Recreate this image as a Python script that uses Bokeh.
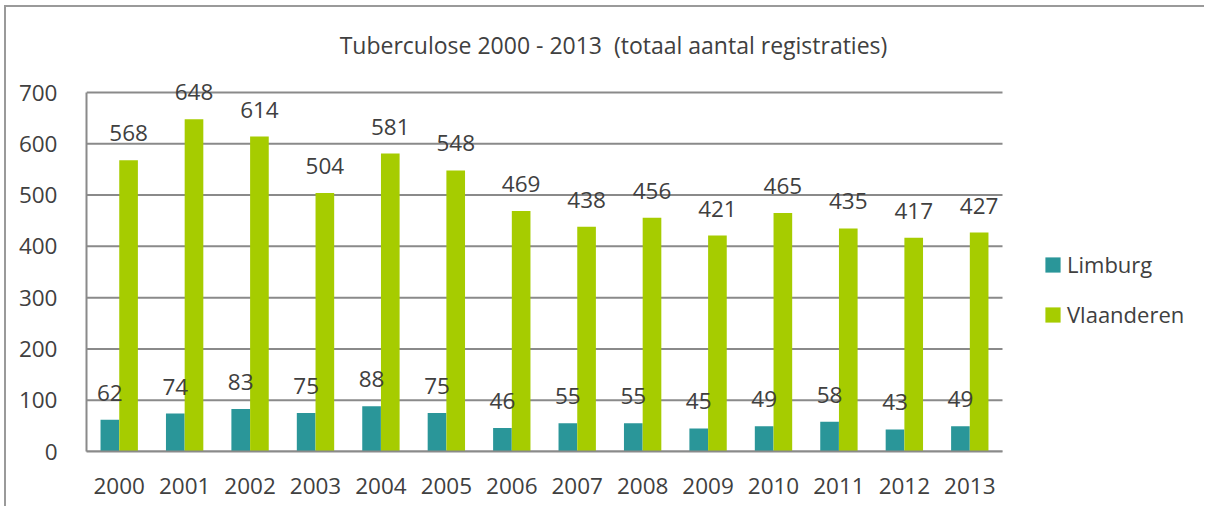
from bokeh.plotting import figure
from bokeh.models import (Range1d, FixedTicker, ColumnDataSource,
                          Label, Legend, LegendItem)
from bokeh.core.properties import value
from bokeh.embed import file_html
from bokeh.resources import INLINE

years = ["2000", "2001", "2002", "2003", "2004", "2005", "2006",
         "2007", "2008", "2009", "2010", "2011", "2012", "2013"]
limburg = [62, 74, 83, 75, 88, 75, 46, 55, 55, 45, 49, 58, 43, 49]
vlaanderen = [568, 648, 614, 504, 581, 548, 469, 438, 456, 421, 465, 435, 417, 427]
y_ticks = [0, 100, 200, 300, 400, 500, 600, 700]
series_names = ["Limburg", "Vlaanderen"]
title_text = "Tuberculose 2000 - 2013 \u00a0(totaal aantal registraties)"

TEAL = "#2A9699"
GREEN = "#A6CC00"
TXT = "#404040"
GRID = "#8a8a8a"
FONT = "Open Sans"

n = len(years)
idx = list(range(n))
OFF = 0.143
BW = 0.285

src = ColumnDataSource(dict(
    xl=[i - OFF for i in idx], xv=[i + OFF for i in idx],
    limburg=limburg, vlaanderen=vlaanderen,
    limburg_lbl=[str(v) for v in limburg],
    vlaanderen_lbl=[str(v) for v in vlaanderen],
))

# layout geometry (pixels)
PX_PER_CAT = 916 / n          # category width in pixels
FRAME_W = 1118
FRAME_H = 444
PLOT_H = 359                  # pixels for 0..700
x_end = -0.5 + FRAME_W / PX_PER_CAT
y_end = y_ticks[-1] * FRAME_H / PLOT_H

p = figure(x_range=Range1d(-0.5, x_end), y_range=Range1d(0, y_end),
           frame_width=FRAME_W, frame_height=FRAME_H,
           min_border_left=80, min_border_right=0,
           min_border_top=0, min_border_bottom=55,
           output_backend="svg", toolbar_location=None,
           background_fill_color="white", border_fill_color="white")
p.styles = {"margin-left": "4px", "margin-top": "5px",
            "border-left": "2px solid #9a9a9a", "border-top": "2px solid #9a9a9a"}
p.outline_line_color = None
p.xgrid.grid_line_color = None
p.ygrid.grid_line_color = None

# gridlines across the category area only
p.segment(x0=[-0.5] * len(y_ticks), x1=[n - 0.5] * len(y_ticks),
          y0=y_ticks, y1=y_ticks, line_color=GRID, line_width=2)

r1 = p.vbar(x="xl", top="limburg", width=BW, source=src,
            fill_color=TEAL, line_color=None)
r2 = p.vbar(x="xv", top="vlaanderen", width=BW, source=src,
            fill_color=GREEN, line_color=None)

p.text(x="xl", y="limburg", text="limburg_lbl",
       source=src, text_align="center", text_baseline="alphabetic", y_offset=-27,
       text_font=value(FONT), text_font_size="22.5px", text_color=TXT)
p.text(x="xv", y="vlaanderen", text="vlaanderen_lbl",
       source=src, text_align="center", text_baseline="alphabetic", y_offset=-27,
       text_font=value(FONT), text_font_size="22.5px", text_color=TXT)

# axes
p.xaxis.ticker = FixedTicker(ticks=idx)
p.xaxis.major_label_overrides = {i: y for i, y in zip(idx, years)}
p.xaxis.bounds = (-0.5, n - 0.5)
p.yaxis.ticker = FixedTicker(ticks=y_ticks)
p.yaxis.bounds = (0, y_ticks[-1])
for ax in (p.xaxis, p.yaxis):
    ax.axis_line_color = GRID
    ax.axis_line_width = 2
    ax.major_tick_line_color = None
    ax.minor_tick_line_color = None
    ax.major_label_text_font = FONT
    ax.major_label_text_font_size = "22.5px"
    ax.major_label_text_color = TXT
p.yaxis.major_label_standoff = 23
p.xaxis.major_label_standoff = 20

# title (inside the frame, above the plotting area)
p.add_layout(Label(x=527, y=407, x_units="screen", y_units="screen",
                   text=title_text, text_align="center", text_baseline="alphabetic",
                   text_font=FONT, text_font_size="23px", text_color=TXT))

# legend
legend = Legend(items=[LegendItem(label=series_names[0], renderers=[r1]),
                       LegendItem(label=series_names[1], renderers=[r2])],
                location=(957, 122), orientation="vertical",
                glyph_width=19, glyph_height=19, label_height=15,
                spacing=20, padding=0, margin=0, label_standoff=5,
                label_text_font=FONT, label_text_font_size="22px",
                label_text_color=TXT, border_line_color=None,
                background_fill_alpha=0)
p.add_layout(legend, "center")

open("out.html", "w").write(file_html(p, INLINE))
